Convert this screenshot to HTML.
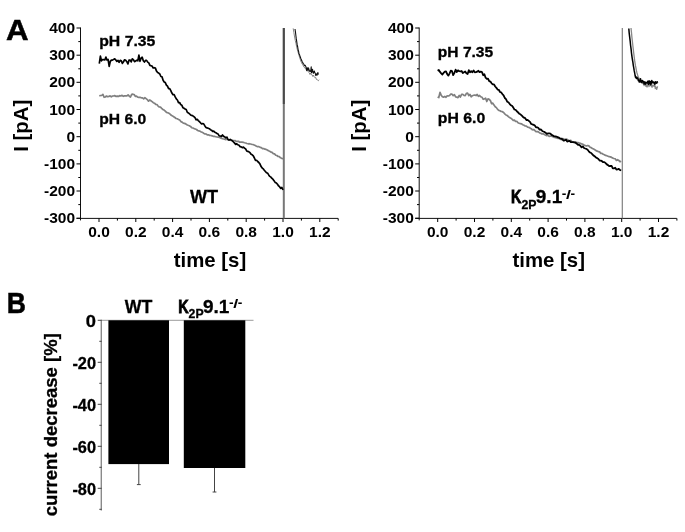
<!DOCTYPE html>
<html><head><meta charset="utf-8"><title>Figure</title>
<style>
html,body{margin:0;padding:0;background:#fff;}
svg{display:block}

.cb{stroke:#000;stroke-width:0.3px}
text{font-family:"Liberation Sans",sans-serif;font-weight:bold;fill:#000}
.tk{font-size:15.5px}
.ax{font-size:20.4px}
.pl{font-size:29.5px;stroke:#000;stroke-width:0.5px}
</style></head><body>
<svg width="685" height="532" viewBox="0 0 685 532">
<rect width="685" height="532" fill="#fff"/>
<path d="M80.5,27.5 V220.4 M76.5,218.4 H338.1" fill="none" stroke="#111" stroke-width="1"/>
<path d="M80.5,28.0 h-4 M80.5,55.2 h-4 M80.5,82.3 h-4 M80.5,109.5 h-4 M80.5,136.7 h-4 M80.5,163.9 h-4 M80.5,191.0 h-4 M80.5,218.2 h-4 M80.5,41.6 h-2.2 M80.5,68.8 h-2.2 M80.5,95.9 h-2.2 M80.5,123.1 h-2.2 M80.5,150.3 h-2.2 M80.5,177.5 h-2.2 M80.5,204.6 h-2.2 M99.0,218.4 v3.6 M135.8,218.4 v3.6 M172.6,218.4 v3.6 M209.4,218.4 v3.6 M246.2,218.4 v3.6 M283.0,218.4 v3.6 M319.8,218.4 v3.6 M117.4,218.4 v2.2 M154.2,218.4 v2.2 M191.0,218.4 v2.2 M227.8,218.4 v2.2 M264.6,218.4 v2.2 M301.4,218.4 v2.2 M338.2,218.4 v2.2 " fill="none" stroke="#000" stroke-width="1"/>
<text x="75.1" y="33.1" text-anchor="end" class="tk">400</text>
<text x="75.1" y="60.3" text-anchor="end" class="tk">300</text>
<text x="75.1" y="87.4" text-anchor="end" class="tk">200</text>
<text x="75.1" y="114.6" text-anchor="end" class="tk">100</text>
<text x="75.1" y="141.8" text-anchor="end" class="tk">0</text>
<text x="75.1" y="169.0" text-anchor="end" class="tk">-100</text>
<text x="75.1" y="196.1" text-anchor="end" class="tk">-200</text>
<text x="75.1" y="223.3" text-anchor="end" class="tk">-300</text>
<text x="99.0" y="236.7" text-anchor="middle" class="tk">0.0</text>
<text x="135.8" y="236.7" text-anchor="middle" class="tk">0.2</text>
<text x="172.6" y="236.7" text-anchor="middle" class="tk">0.4</text>
<text x="209.4" y="236.7" text-anchor="middle" class="tk">0.6</text>
<text x="246.2" y="236.7" text-anchor="middle" class="tk">0.8</text>
<text x="283.0" y="236.7" text-anchor="middle" class="tk">1.0</text>
<text x="319.8" y="236.7" text-anchor="middle" class="tk">1.2</text>
<text x="210.0" y="266.9" text-anchor="middle" class="ax">time [s]</text>
<text transform="translate(27.6,125.7) rotate(-90)" text-anchor="middle" class="ax">I [pA]</text>
<path d="M419.2,27.5 V220.4 M415.2,218.4 H676.8" fill="none" stroke="#111" stroke-width="1"/>
<path d="M419.2,28.0 h-4 M419.2,55.2 h-4 M419.2,82.3 h-4 M419.2,109.5 h-4 M419.2,136.7 h-4 M419.2,163.9 h-4 M419.2,191.0 h-4 M419.2,218.2 h-4 M419.2,41.6 h-2.2 M419.2,68.8 h-2.2 M419.2,95.9 h-2.2 M419.2,123.1 h-2.2 M419.2,150.3 h-2.2 M419.2,177.5 h-2.2 M419.2,204.6 h-2.2 M437.7,218.4 v3.6 M474.5,218.4 v3.6 M511.3,218.4 v3.6 M548.1,218.4 v3.6 M584.9,218.4 v3.6 M621.7,218.4 v3.6 M658.5,218.4 v3.6 M456.1,218.4 v2.2 M492.9,218.4 v2.2 M529.7,218.4 v2.2 M566.5,218.4 v2.2 M603.3,218.4 v2.2 M640.1,218.4 v2.2 M676.9,218.4 v2.2 " fill="none" stroke="#000" stroke-width="1"/>
<text x="413.8" y="33.1" text-anchor="end" class="tk">400</text>
<text x="413.8" y="60.3" text-anchor="end" class="tk">300</text>
<text x="413.8" y="87.4" text-anchor="end" class="tk">200</text>
<text x="413.8" y="114.6" text-anchor="end" class="tk">100</text>
<text x="413.8" y="141.8" text-anchor="end" class="tk">0</text>
<text x="413.8" y="169.0" text-anchor="end" class="tk">-100</text>
<text x="413.8" y="196.1" text-anchor="end" class="tk">-200</text>
<text x="413.8" y="223.3" text-anchor="end" class="tk">-300</text>
<text x="437.7" y="236.7" text-anchor="middle" class="tk">0.0</text>
<text x="474.5" y="236.7" text-anchor="middle" class="tk">0.2</text>
<text x="511.3" y="236.7" text-anchor="middle" class="tk">0.4</text>
<text x="548.1" y="236.7" text-anchor="middle" class="tk">0.6</text>
<text x="584.9" y="236.7" text-anchor="middle" class="tk">0.8</text>
<text x="621.7" y="236.7" text-anchor="middle" class="tk">1.0</text>
<text x="658.5" y="236.7" text-anchor="middle" class="tk">1.2</text>
<text x="548.7" y="266.9" text-anchor="middle" class="ax">time [s]</text>
<text transform="translate(366.3,125.7) rotate(-90)" text-anchor="middle" class="ax">I [pA]</text>
<rect x="282.8" y="28" width="2" height="190.4" fill="#777"/>
<rect x="282.8" y="28" width="2" height="76" fill="#4a4a4a"/>
<rect x="621.7" y="28" width="1.2" height="190.4" fill="#808080"/>
<path d="M99.3,95.9 L100.5,95.5 L101.7,95.5 L102.9,94.3 L104.1,97.3 L105.3,97.0 L106.5,96.0 L107.7,96.7 L108.9,96.4 L110.1,95.8 L111.3,96.8 L112.5,96.0 L113.7,95.9 L114.9,95.6 L116.1,96.5 L117.3,96.1 L118.5,96.5 L119.7,95.6 L120.9,96.0 L122.1,95.3 L123.3,96.3 L124.5,95.9 L125.7,95.9 L126.9,95.9 L128.1,94.9 L129.3,96.2 L130.5,97.0 L131.7,94.4 L132.9,94.2 L134.1,94.5 L135.3,96.3 L136.5,96.2 L137.7,97.2 L138.9,97.4 L140.1,97.4 L141.3,97.8 L142.5,97.8 L143.7,98.8 L144.9,97.7 L146.1,98.6 L147.3,99.6 L148.5,101.2 L149.7,100.0 L150.9,100.8 L152.1,101.6 L153.3,102.7 L154.5,103.2 L155.7,104.4 L156.9,104.5 L158.1,106.1 L159.3,107.0 L160.5,107.2 L161.7,108.4 L162.9,109.5 L164.1,110.1 L165.3,111.2 L166.5,112.4 L167.7,112.7 L168.9,113.3 L170.1,114.1 L171.3,115.3 L172.5,115.9 L173.7,116.7 L174.9,117.5 L176.1,118.5 L177.3,118.8 L178.5,119.4 L179.7,120.0 L180.9,121.6 L182.1,122.1 L183.3,123.1 L184.5,123.4 L185.7,123.9 L186.9,124.8 L188.1,125.3 L189.3,125.7 L190.5,126.4 L191.7,127.7 L192.9,128.0 L194.1,128.6 L195.3,129.0 L196.5,129.5 L197.7,130.5 L198.9,130.9 L200.1,131.3 L201.3,132.0 L202.5,132.4 L203.7,133.2 L204.9,133.9 L206.1,134.0 L207.3,134.9 L208.5,134.8 L209.7,135.4 L210.9,135.5 L212.1,135.9 L213.3,136.3 L214.5,136.4 L215.7,136.7 L216.9,137.0 L218.1,137.2 L219.3,137.3 L220.5,137.9 L221.7,138.4 L222.9,138.8 L224.1,139.0 L225.3,139.6 L226.5,139.3 L227.7,139.4 L228.9,140.2 L230.1,139.7 L231.3,140.5 L232.5,140.3 L233.7,140.8 L234.9,140.5 L236.1,141.4 L237.3,141.3 L238.5,141.3 L239.7,142.2 L240.9,142.2 L242.1,142.2 L243.3,142.3 L244.5,142.7 L245.7,143.0 L246.9,143.5 L248.1,143.8 L249.3,143.7 L250.5,144.0 L251.7,144.3 L252.9,144.5 L254.1,145.0 L255.3,145.5 L256.5,146.2 L257.7,146.7 L258.9,146.6 L260.1,147.4 L261.3,147.6 L262.5,148.7 L263.7,148.6 L264.9,149.2 L266.1,149.4 L267.3,150.0 L268.5,150.8 L269.7,151.3 L270.9,152.1 L272.1,152.4 L273.3,153.6 L274.5,153.9 L275.7,155.2 L276.9,155.5 L278.1,156.5 L279.3,156.6 L280.5,157.8 L281.7,158.2 L282.9,159.0" fill="none" stroke="#808080" stroke-width="1.7" stroke-linejoin="round"/>
<path d="M99.3,63.6 L100.4,56.2 L101.5,60.8 L102.6,59.5 L103.7,59.7 L104.8,60.0 L105.9,57.1 L107.0,60.0 L108.1,59.5 L109.2,66.4 L110.3,61.4 L111.4,60.1 L112.5,60.1 L113.6,59.4 L114.7,58.8 L115.8,59.9 L116.9,61.4 L118.0,60.4 L119.1,62.3 L120.2,60.4 L121.3,60.8 L122.4,63.4 L123.5,61.7 L124.6,59.8 L125.7,60.3 L126.8,61.7 L127.9,63.9 L129.0,60.2 L130.1,60.0 L131.2,61.9 L132.3,58.8 L133.4,59.7 L134.5,61.7 L135.6,61.1 L136.7,60.3 L137.8,60.8 L138.9,55.2 L140.0,61.3 L141.1,58.2 L142.2,57.2 L143.3,60.8 L144.4,62.0 L145.5,60.4 L146.6,60.4 L147.7,62.1 L148.8,62.9 L149.9,65.4 L151.0,65.7 L152.1,66.1 L153.2,68.0 L154.3,67.7 L155.4,68.1 L156.5,71.1 L157.6,72.6 L158.7,73.1 L159.8,74.0 L160.9,76.5 L162.0,76.8 L163.1,80.3 L164.2,82.0 L165.3,82.6 L166.4,85.1 L167.5,86.2 L168.6,88.6 L169.7,88.6 L170.8,90.6 L171.9,93.1 L173.0,94.7 L174.1,94.5 L175.2,96.9 L176.3,98.9 L177.4,100.0 L178.5,102.6 L179.6,102.5 L180.7,104.6 L181.8,105.2 L182.9,107.7 L184.0,108.2 L185.1,109.0 L186.2,109.5 L187.3,112.3 L188.4,112.9 L189.5,113.8 L190.6,115.0 L191.7,115.4 L192.8,115.8 L193.9,116.7 L195.0,117.7 L196.1,119.8 L197.2,119.3 L198.3,120.6 L199.4,121.6 L200.5,122.8 L201.6,123.8 L202.7,123.6 L203.8,124.1 L204.9,125.9 L206.0,127.4 L207.1,127.9 L208.2,128.3 L209.3,128.7 L210.4,129.7 L211.5,130.2 L212.6,131.3 L213.7,131.1 L214.8,132.2 L215.9,132.7 L217.0,133.6 L218.1,134.1 L219.2,135.9 L220.3,136.0 L221.4,136.4 L222.5,135.0 L223.6,136.4 L224.7,136.8 L225.8,137.9 L226.9,137.1 L228.0,139.5 L229.1,140.1 L230.2,139.4 L231.3,140.1 L232.4,140.9 L233.5,142.0 L234.6,143.1 L235.7,144.4 L236.8,143.8 L237.9,144.8 L239.0,145.2 L240.1,146.6 L241.2,146.8 L242.3,147.7 L243.4,147.1 L244.5,148.2 L245.6,148.8 L246.7,150.9 L247.8,151.4 L248.9,151.8 L250.0,152.7 L251.1,154.3 L252.2,154.8 L253.3,155.9 L254.4,158.0 L255.5,160.4 L256.6,160.3 L257.7,161.5 L258.8,162.5 L259.9,163.9 L261.0,166.3 L262.1,167.9 L263.2,168.8 L264.3,170.3 L265.4,171.5 L266.5,172.8 L267.6,173.1 L268.7,174.9 L269.8,176.4 L270.9,177.1 L272.0,178.4 L273.1,179.4 L274.2,180.9 L275.3,182.6 L276.4,183.1 L277.5,184.3 L278.6,185.9 L279.7,186.9 L280.8,188.4 L281.9,187.5 L283.0,190.0" fill="none" stroke="#000" stroke-width="1.7" stroke-linejoin="round"/>
<path d="M293.2,28.4 L293.9,32.7 L294.6,37.0 L295.3,40.6 L296.0,43.6 L296.7,47.1 L297.4,49.8 L298.1,52.5 L298.8,54.5 L299.5,57.1 L300.2,59.2 L300.9,61.4 L301.6,62.8 L302.3,64.2 L303.0,65.1 L303.7,66.8 L304.4,67.1 L305.1,68.5 L305.8,69.1 L306.5,69.7 L307.2,70.5 L307.9,71.3 L308.6,72.3 L309.3,72.8 L310.0,74.5 L310.7,72.9 L311.4,74.7 L312.1,74.8 L312.8,76.5 L313.5,75.1 L314.2,76.8 L314.9,77.7 L315.6,77.2 L316.3,79.3 L317.0,79.3 L317.7,80.3 L318.4,80.7 L319.1,79.7" fill="none" stroke="#777" stroke-width="0.9" stroke-linejoin="round"/>
<path d="M295.0,29.0 L295.4,31.5 L295.9,35.8 L296.3,38.9 L296.8,42.1 L297.2,44.9 L297.7,47.0 L298.1,49.6 L298.6,51.3 L299.0,53.9 L299.5,54.7 L299.9,55.9 L300.4,57.3 L300.8,58.4 L301.3,59.4 L301.7,60.6 L302.2,61.7 L302.6,62.3 L303.1,63.4 L303.5,63.8 L304.0,64.5 L304.4,65.5 L304.9,65.8 L305.3,65.4 L305.8,66.4 L306.2,68.2 L306.7,70.6 L307.1,67.8 L307.6,68.2 L308.0,70.3 L308.5,67.9 L308.9,69.1 L309.4,71.3 L309.8,71.2 L310.3,70.8 L310.7,71.6 L311.2,66.9 L311.6,72.6 L312.1,70.1 L312.5,69.2 L313.0,72.4 L313.4,73.3 L313.9,71.7 L314.3,71.0 L314.8,72.8 L315.2,73.0 L315.7,75.4 L316.1,74.6 L316.6,73.9 L317.0,75.3 L317.5,73.4 L317.9,72.5 L318.4,74.7" fill="none" stroke="#111" stroke-width="1.1" stroke-linejoin="round"/>
<path d="M437.6,96.9 L438.8,97.5 L440.0,92.4 L441.2,95.2 L442.4,96.7 L443.6,97.2 L444.8,96.4 L446.0,97.3 L447.2,95.8 L448.4,96.0 L449.6,95.5 L450.8,94.0 L452.0,94.2 L453.2,95.7 L454.4,94.7 L455.6,96.9 L456.8,97.1 L458.0,97.6 L459.2,95.5 L460.4,97.0 L461.6,94.3 L462.8,94.3 L464.0,95.4 L465.2,95.6 L466.4,93.3 L467.6,93.2 L468.8,95.6 L470.0,94.5 L471.2,96.8 L472.4,95.7 L473.6,95.3 L474.8,95.0 L476.0,95.6 L477.2,94.5 L478.4,96.4 L479.6,95.5 L480.8,96.8 L482.0,97.2 L483.2,99.3 L484.4,98.9 L485.6,98.1 L486.8,101.5 L488.0,98.9 L489.2,99.3 L490.4,100.6 L491.6,103.6 L492.8,103.1 L494.0,105.1 L495.2,106.7 L496.4,107.6 L497.6,109.4 L498.8,110.4 L500.0,110.7 L501.2,111.5 L502.4,111.7 L503.6,112.5 L504.8,113.8 L506.0,115.0 L507.2,115.5 L508.4,116.6 L509.6,117.6 L510.8,118.2 L512.0,119.2 L513.2,120.3 L514.4,120.2 L515.6,121.5 L516.8,121.3 L518.0,122.7 L519.2,123.3 L520.4,123.6 L521.6,123.9 L522.8,124.8 L524.0,125.3 L525.2,126.0 L526.4,126.2 L527.6,127.2 L528.8,127.3 L530.0,128.1 L531.2,128.7 L532.4,129.8 L533.6,129.5 L534.8,130.5 L536.0,131.7 L537.2,131.6 L538.4,131.9 L539.6,132.9 L540.8,133.2 L542.0,134.0 L543.2,133.8 L544.4,134.6 L545.6,135.2 L546.8,135.6 L548.0,135.3 L549.2,136.5 L550.4,136.0 L551.6,136.1 L552.8,136.6 L554.0,137.3 L555.2,137.5 L556.4,138.0 L557.6,138.3 L558.8,138.5 L560.0,138.7 L561.2,139.6 L562.4,138.5 L563.6,138.9 L564.8,139.6 L566.0,139.6 L567.2,139.4 L568.4,140.3 L569.6,140.5 L570.8,140.3 L572.0,141.7 L573.2,142.2 L574.4,142.4 L575.6,142.1 L576.8,142.6 L578.0,142.5 L579.2,143.2 L580.4,143.3 L581.6,144.0 L582.8,144.2 L584.0,145.1 L585.2,145.5 L586.4,146.0 L587.6,145.5 L588.8,145.9 L590.0,147.2 L591.2,147.6 L592.4,148.5 L593.6,149.1 L594.8,149.7 L596.0,150.6 L597.2,151.1 L598.4,151.7 L599.6,151.9 L600.8,153.4 L602.0,153.4 L603.2,154.3 L604.4,154.7 L605.6,155.5 L606.8,155.7 L608.0,156.2 L609.2,156.7 L610.4,156.9 L611.6,157.4 L612.8,158.1 L614.0,158.5 L615.2,158.8 L616.4,160.4 L617.6,159.7 L618.8,160.4 L620.0,161.8 L621.2,161.3" fill="none" stroke="#808080" stroke-width="1.7" stroke-linejoin="round"/>
<path d="M437.6,70.8 L438.8,70.0 L440.0,71.9 L441.2,73.3 L442.4,74.5 L443.6,72.9 L444.8,71.7 L446.0,71.5 L447.2,74.1 L448.4,75.6 L449.6,73.3 L450.8,70.7 L452.0,71.2 L453.2,75.2 L454.4,72.9 L455.6,69.7 L456.8,72.0 L458.0,70.4 L459.2,71.1 L460.4,71.3 L461.6,71.0 L462.8,73.0 L464.0,72.2 L465.2,71.5 L466.4,73.3 L467.6,74.0 L468.8,70.2 L470.0,72.2 L471.2,71.2 L472.4,72.2 L473.6,70.4 L474.8,72.3 L476.0,72.2 L477.2,71.7 L478.4,70.8 L479.6,72.2 L480.8,71.7 L482.0,72.1 L483.2,75.2 L484.4,74.3 L485.6,77.7 L486.8,78.8 L488.0,78.6 L489.2,81.1 L490.4,81.6 L491.6,83.3 L492.8,84.4 L494.0,84.4 L495.2,86.5 L496.4,87.8 L497.6,89.6 L498.8,89.8 L500.0,92.0 L501.2,92.4 L502.4,94.1 L503.6,95.3 L504.8,98.0 L506.0,99.2 L507.2,101.7 L508.4,102.3 L509.6,103.8 L510.8,105.2 L512.0,105.8 L513.2,107.4 L514.4,109.5 L515.6,109.8 L516.8,111.3 L518.0,112.3 L519.2,113.7 L520.4,114.3 L521.6,115.4 L522.8,116.7 L524.0,117.7 L525.2,118.2 L526.4,120.1 L527.6,119.9 L528.8,120.9 L530.0,121.9 L531.2,124.0 L532.4,124.3 L533.6,124.8 L534.8,125.6 L536.0,127.3 L537.2,127.3 L538.4,128.0 L539.6,129.7 L540.8,129.5 L542.0,130.7 L543.2,131.5 L544.4,131.9 L545.6,132.7 L546.8,134.0 L548.0,133.4 L549.2,133.4 L550.4,133.6 L551.6,134.9 L552.8,135.4 L554.0,136.2 L555.2,136.3 L556.4,136.7 L557.6,137.1 L558.8,137.6 L560.0,138.4 L561.2,138.6 L562.4,139.3 L563.6,140.7 L564.8,140.3 L566.0,139.5 L567.2,141.6 L568.4,141.2 L569.6,140.9 L570.8,142.2 L572.0,142.1 L573.2,142.1 L574.4,142.4 L575.6,142.7 L576.8,143.7 L578.0,144.8 L579.2,144.8 L580.4,145.9 L581.6,147.3 L582.8,146.4 L584.0,148.0 L585.2,148.5 L586.4,148.9 L587.6,149.8 L588.8,151.3 L590.0,152.5 L591.2,153.0 L592.4,154.3 L593.6,155.6 L594.8,156.3 L596.0,157.5 L597.2,158.1 L598.4,159.0 L599.6,160.5 L600.8,160.7 L602.0,161.2 L603.2,162.2 L604.4,162.1 L605.6,163.1 L606.8,164.4 L608.0,165.1 L609.2,166.2 L610.4,166.0 L611.6,165.8 L612.8,168.3 L614.0,168.4 L615.2,167.8 L616.4,169.6 L617.6,169.4 L618.8,168.8 L620.0,170.0 L621.2,170.5" fill="none" stroke="#000" stroke-width="1.8" stroke-linejoin="round"/>
<path d="M631.0,28.0 L631.5,32.7 L631.9,37.1 L632.4,41.6 L632.8,45.2 L633.3,49.5 L633.7,53.0 L634.2,56.9 L634.6,60.2 L635.1,63.3 L635.5,65.9 L636.0,68.1 L636.4,70.6 L636.9,72.7 L637.3,73.9 L637.8,75.6 L638.2,76.8 L638.7,79.3 L639.1,78.2 L639.6,79.5 L640.0,81.1 L640.5,81.5 L640.9,80.3 L641.4,82.6 L641.8,82.6 L642.3,82.8 L642.7,83.3 L643.2,83.8 L643.6,82.2 L644.1,85.7 L644.5,83.5 L645.0,82.3 L645.4,84.7 L645.9,86.4 L646.3,84.7 L646.8,86.8 L647.2,86.9 L647.7,84.4 L648.1,82.8 L648.6,84.2 L649.0,86.7 L649.5,84.8 L649.9,84.0 L650.4,84.3 L650.8,85.7 L651.3,85.9 L651.7,86.9 L652.2,87.0 L652.6,85.2 L653.1,85.9 L653.5,85.1 L654.0,86.3 L654.4,85.2 L654.9,85.3 L655.3,88.6 L655.8,86.8 L656.2,87.5 L656.7,89.4 L657.1,87.8 L657.6,86.9 L658.0,87.0" fill="none" stroke="#888" stroke-width="1.3" stroke-linejoin="round"/>
<path d="M628.8,28.5 L629.2,33.1 L629.7,37.3 L630.2,41.4 L630.6,45.5 L631.1,49.2 L631.5,53.1 L632.0,56.8 L632.4,59.5 L632.9,62.3 L633.3,65.3 L633.8,68.1 L634.2,70.7 L634.7,73.0 L635.1,75.5 L635.6,77.5 L636.0,76.9 L636.5,78.5 L636.9,77.3 L637.4,78.4 L637.8,78.3 L638.3,80.6 L638.7,79.8 L639.2,82.0 L639.6,82.1 L640.1,81.6 L640.5,78.7 L641.0,81.3 L641.4,82.2 L641.9,82.5 L642.3,80.5 L642.8,81.8 L643.2,81.3 L643.7,81.7 L644.1,84.1 L644.6,81.9 L645.0,82.9 L645.5,84.1 L645.9,82.3 L646.4,82.8 L646.8,83.1 L647.3,83.0 L647.7,81.3 L648.2,82.9 L648.6,84.4 L649.1,80.7 L649.5,83.5 L650.0,82.5 L650.4,81.5 L650.9,84.8 L651.3,83.1 L651.8,80.5 L652.2,82.1 L652.7,82.8 L653.1,81.9 L653.6,83.0 L654.0,82.2 L654.5,83.3 L654.9,84.4 L655.4,81.8 L655.8,82.9 L656.3,82.3 L656.7,83.2 L657.2,81.7 L657.6,82.7" fill="none" stroke="#000" stroke-width="1.5" stroke-linejoin="round"/>
<text x="99.2" y="45.9" class="cb" font-size="14.6" textLength="56.2" lengthAdjust="spacingAndGlyphs" text-anchor="start" >pH 7.35</text>
<text x="99.3" y="124.0" class="cb" font-size="14.6" textLength="47" lengthAdjust="spacingAndGlyphs" text-anchor="start" >pH 6.0</text>
<text x="437.8" y="57.0" class="cb" font-size="14.6" textLength="55.4" lengthAdjust="spacingAndGlyphs" text-anchor="start" >pH 7.35</text>
<text x="437.8" y="122.5" class="cb" font-size="14.6" textLength="47.4" lengthAdjust="spacingAndGlyphs" text-anchor="start" >pH 6.0</text>
<text x="190.0" y="203.3" class="cb" font-size="18.3" textLength="28.2" lengthAdjust="spacingAndGlyphs" text-anchor="start" >WT</text>
<text x="511.1" y="203.4" class="cb" font-size="18.3" textLength="10.4" lengthAdjust="spacingAndGlyphs" text-anchor="start" style="stroke-width:0.85px">K</text>
<text x="521.4" y="208.70000000000002" class="cb" font-size="12" textLength="15.0" lengthAdjust="spacingAndGlyphs" text-anchor="start" >2P</text>
<text x="535.8" y="203.4" class="cb" font-size="18.3" textLength="26.4" lengthAdjust="spacingAndGlyphs" text-anchor="start" >9.1</text>
<text x="561.7" y="197.8" class="cb" font-size="12" textLength="4.6" lengthAdjust="spacingAndGlyphs" text-anchor="start" style="stroke-width:0">-</text>
<text x="566.0" y="198.8" class="cb" font-size="12.6" textLength="5.0" lengthAdjust="spacingAndGlyphs" text-anchor="start" style="stroke-width:0">/</text>
<text x="570.6" y="197.8" class="cb" font-size="12" textLength="4.6" lengthAdjust="spacingAndGlyphs" text-anchor="start" style="stroke-width:0">-</text>
<text x="6.0" y="39.6" class="pl" textLength="22.6" lengthAdjust="spacingAndGlyphs">A</text>
<text x="6.8" y="313" class="pl" textLength="19.2" lengthAdjust="spacingAndGlyphs">B</text>
<path d="M101.3,319.8 V510.5" fill="none" stroke="#8a8a8a" stroke-width="1.4"/>
<path d="M101.7,320.3 H253.5" fill="none" stroke="#909090" stroke-width="0.9"/>
<path d="M101.7,320.3 h-4 M101.7,362.3 h-4 M101.7,404.3 h-4 M101.7,446.3 h-4 M101.7,488.3 h-4 M101.7,341.3 h-2.4 M101.7,383.3 h-2.4 M101.7,425.3 h-2.4 M101.7,467.3 h-2.4 M101.7,509.3 h-2.4 " fill="none" stroke="#444" stroke-width="1"/>
<rect x="108.4" y="320.3" width="60.6" height="143.8" fill="#000"/>
<rect x="183.8" y="320.3" width="61.5" height="147.7" fill="#000"/>
<path d="M138.8,464 V484.6 M136.9,484.6 h3.8 M214.5,468 V492 M212.6,492 h3.8" fill="none" stroke="#444" stroke-width="1"/>
<text x="96.0" y="326.6" class="cb" font-size="16.5" textLength="10.2" lengthAdjust="spacingAndGlyphs" text-anchor="end" >0</text>
<text x="96.0" y="368.6" class="cb" font-size="16.5" textLength="23.6" lengthAdjust="spacingAndGlyphs" text-anchor="end" >-20</text>
<text x="96.0" y="410.6" class="cb" font-size="16.5" textLength="23.6" lengthAdjust="spacingAndGlyphs" text-anchor="end" >-40</text>
<text x="96.0" y="452.6" class="cb" font-size="16.5" textLength="23.6" lengthAdjust="spacingAndGlyphs" text-anchor="end" >-60</text>
<text x="96.0" y="494.6" class="cb" font-size="16.5" textLength="23.6" lengthAdjust="spacingAndGlyphs" text-anchor="end" >-80</text>
<text x="124.8" y="312.6" class="cb" font-size="18.3" textLength="27.6" lengthAdjust="spacingAndGlyphs" text-anchor="start" >WT</text>
<text x="178.29999999999998" y="312.6" class="cb" font-size="18.3" textLength="10.4" lengthAdjust="spacingAndGlyphs" text-anchor="start" style="stroke-width:0.85px">K</text>
<text x="188.6" y="317.90000000000003" class="cb" font-size="12" textLength="15.0" lengthAdjust="spacingAndGlyphs" text-anchor="start" >2P</text>
<text x="203.0" y="312.6" class="cb" font-size="18.3" textLength="26.4" lengthAdjust="spacingAndGlyphs" text-anchor="start" >9.1</text>
<text x="228.89999999999998" y="307.0" class="cb" font-size="12" textLength="4.6" lengthAdjust="spacingAndGlyphs" text-anchor="start" style="stroke-width:0">-</text>
<text x="233.2" y="308.0" class="cb" font-size="12.6" textLength="5.0" lengthAdjust="spacingAndGlyphs" text-anchor="start" style="stroke-width:0">/</text>
<text x="237.79999999999998" y="307.0" class="cb" font-size="12" textLength="4.6" lengthAdjust="spacingAndGlyphs" text-anchor="start" style="stroke-width:0">-</text>
<text transform="translate(56.7,516.2) rotate(-90)" class="cb" font-size="18.5" textLength="183" lengthAdjust="spacingAndGlyphs">current decrease [%]</text>
</svg>
</body></html>
